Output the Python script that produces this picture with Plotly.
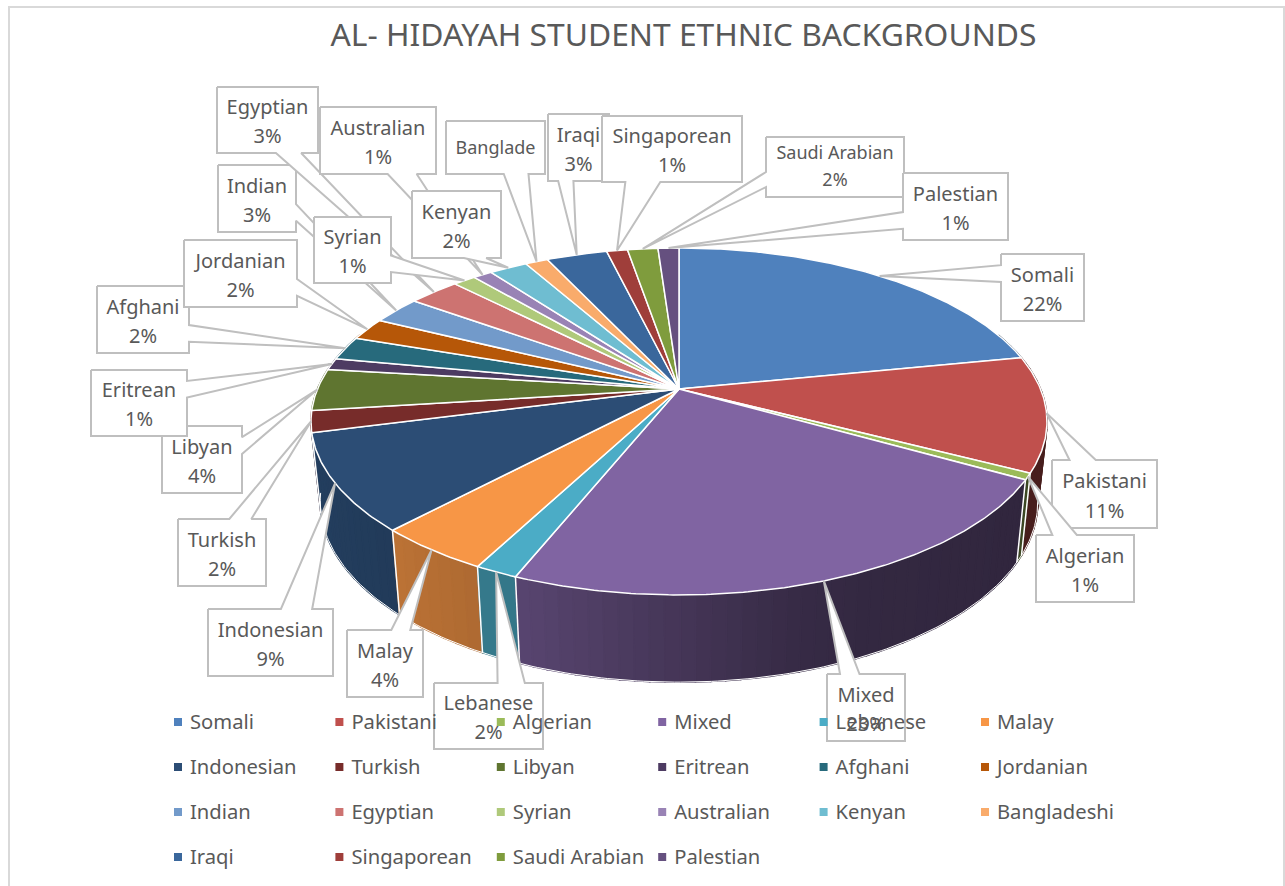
import numpy as np
import plotly.graph_objects as go

# Share of students per background, in percent, clockwise from twelve o'clock
categories = ["Somali", "Pakistani", "Algerian", "Mixed", "Lebanese", "Malay",
              "Indonesian", "Turkish", "Libyan", "Eritrean", "Afghani", "Jordanian",
              "Indian", "Egyptian", "Syrian", "Australian", "Kenyan", "Bangladeshi",
              "Iraqi", "Singaporean", "Saudi Arabian", "Palestian"]
shares = [21.9, 10.7, 0.6, 22.9, 1.6, 4.3,
          9.0, 2.0, 3.9, 1.1, 2.2, 2.1,
          2.6, 2.7, 1.2, 1.0, 2.0, 1.2,
          3.2, 1.1, 1.6, 1.1]
slice_colors = ["#4f81bd", "#c0504d", "#9bbb59", "#8064a2", "#4bacc6", "#f79646",
                "#2c4d75", "#772c2a", "#5f7530", "#4d3b62", "#276a7c", "#b65708",
                "#729aca", "#cd7371", "#afc97a", "#9983b5", "#6fbdd1", "#f9ab6b",
                "#3a679c", "#9f3e3a", "#7f9c3d", "#65507f"]

TITLE = "AL- HIDAYAH STUDENT ETHNIC BACKGROUNDS"
TEXT = "#595959"
CALLOUT_LINE = "#bfbfbf"
FONT = "Noto Sans"

# Callout boxes as x0, y0, x1, y1 in page pixels
label_boxes = {
    "Somali": (1001, 254, 1084, 321), "Pakistani": (1052, 460, 1157, 528),
    "Algerian": (1036, 535, 1134, 602), "Mixed": (827, 674, 905, 741),
    "Lebanese": (434, 683, 543, 749), "Malay": (347, 630, 423, 697),
    "Indonesian": (208, 609, 333, 676), "Turkish": (178, 519, 266, 586),
    "Libyan": (162, 426, 242, 493), "Eritrean": (91, 370, 187, 436),
    "Afghani": (97, 286, 189, 353), "Jordanian": (184, 240, 297, 307),
    "Indian": (218, 165, 296, 232), "Egyptian": (217, 87, 318, 153),
    "Syrian": (314, 217, 391, 283), "Australian": (320, 107, 436, 174),
    "Kenyan": (412, 191, 501, 258), "Bangladeshi": (446, 121, 545, 174),
    "Iraqi": (548, 114, 609, 181), "Singaporean": (602, 116, 742, 182),
    "Saudi Arabian": (766, 137, 904, 197), "Palestian": (903, 173, 1008, 240),
}
# The narrow Bangladeshi box clips its text and drops the percentage
clipped_labels = {"Bangladeshi": "Banglade"}
small_labels = {"Bangladeshi", "Saudi Arabian"}

# Perspective projection of the pie disc onto the page
CX, TOP_Y = 679.0, 389.0
A, B, K = 361.5, 167.4, 0.187
BOTTOM_Y, BOTTOM_SX, BOTTOM_SY = 468.0, 0.975, 1.04


def top_xy(theta):
    u, v = np.sin(theta), np.cos(theta)
    w = 1 + K * v
    return CX + A * u / w, TOP_Y - B * v / w


def bottom_xy(theta):
    u, v = np.sin(theta), np.cos(theta)
    w = 1 + K * v
    return CX + BOTTOM_SX * A * u / w, BOTTOM_Y - BOTTOM_SY * B * v / w


def wall_shade(theta):
    deg = np.degrees(theta)
    return np.interp(deg, [90, 120, 155, 165, 200, 212, 225, 245, 270],
                     [0.36, 0.38, 0.40, 0.43, 0.68, 0.72, 0.77, 0.80, 0.82])


def scaled(color, f):
    r, g, b = (int(color[i:i + 2], 16) for i in (1, 3, 5))
    return f"rgb({r * f:.0f},{g * f:.0f},{b * f:.0f})"


def callout_path(box, tip):
    """Rectangle with a wedge running to the tip, wedge base on the nearest side."""
    x0, y0, x1, y1 = box
    w, h = x1 - x0, y1 - y0
    dx, dy = tip[0] - (x0 + x1) / 2, tip[1] - (y0 + y1) / 2
    near = (7 / 12, 5 / 6)
    far = (1 / 6, 5 / 12)
    if abs(dy) > abs(dx * h / w):
        a, b = near if dx > 0 else far
        xa, xb = x0 + a * w, x0 + b * w
        if dy > 0:
            xs = [x0, x1, x1, xb, tip[0], xa, x0, x0]
            ys = [y0, y0, y1, y1, tip[1], y1, y1, y0]
        else:
            xs = [x0, xa, tip[0], xb, x1, x1, x0, x0]
            ys = [y0, y0, tip[1], y0, y0, y1, y1, y0]
    else:
        a, b = near if dy > 0 else far
        ya, yb = y0 + a * h, y0 + b * h
        if dx > 0:
            xs = [x0, x1, x1, tip[0], x1, x1, x0, x0]
            ys = [y0, y0, ya, tip[1], yb, y1, y1, y0]
        else:
            xs = [x0, x1, x1, x0, x0, tip[0], x0, x0]
            ys = [y0, y0, y1, y1, yb, tip[1], ya, y0]
    return xs, ys


def poly(xs, ys, fill, line, width):
    return go.Scatter(x=xs, y=ys, mode="lines", fill="toself", fillcolor=fill,
                      line=dict(color=line, width=width), hoverinfo="skip",
                      showlegend=False)


values = np.array(shares, dtype=float)
edges = 2 * np.pi * np.concatenate([[0], np.cumsum(values)]) / values.sum()

fig = go.Figure()

# Side walls, painted back to front so the nearest segments end up on top
segments = []
for i, color in enumerate(slice_colors):
    lo, hi = max(edges[i], np.radians(70)), min(edges[i + 1], np.radians(290))
    if hi <= lo:
        continue
    n = max(1, int(np.degrees(hi - lo) / 2.0))
    cuts = np.linspace(lo, hi, n + 1)
    for a, b in zip(cuts[:-1], cuts[1:]):
        segments.append((a, b, color))
segments.sort(key=lambda s: np.cos((s[0] + s[1]) / 2), reverse=True)
for a, b, color in segments:
    t = np.linspace(a, b, 4)
    tx, ty = top_xy(t)
    bx, by = bottom_xy(t[::-1])
    c = scaled(color, wall_shade((a + b) / 2))
    fig.add_trace(poly(np.r_[tx, bx, tx[0]], np.r_[ty, by, ty[0]], c, c, 1.6))

# White seams between walls and along the lower rim
for e in edges:
    if np.radians(112) < e < np.radians(256):
        x0, y0 = top_xy(e)
        x1, y1 = bottom_xy(e)
        fig.add_trace(go.Scatter(x=[x0, x1], y=[y0, y1], mode="lines",
                                 line=dict(color="white", width=1.5),
                                 hoverinfo="skip", showlegend=False))
t = np.radians(np.linspace(100, 262, 200))
bx, by = bottom_xy(t)
fig.add_trace(go.Scatter(x=bx, y=by, mode="lines", line=dict(color="white", width=1),
                         hoverinfo="skip", showlegend=False))

# Top face of the pie
for i, color in enumerate(slice_colors):
    t = np.linspace(edges[i], edges[i + 1], max(3, int(values[i] * 6)))
    x, y = top_xy(t)
    fig.add_trace(poly(np.r_[CX, x, CX], np.r_[TOP_Y, y, TOP_Y], color, "white", 1.5))

# Callouts in series order, each with its tip on the rim at mid-slice
for i, name in enumerate(categories):
    mid = (edges[i] + edges[i + 1]) / 2
    tip = tuple(float(v) for v in top_xy(mid))
    box = label_boxes[name]
    xs, ys = callout_path(box, tip)
    fig.add_trace(poly(xs, ys, "white", CALLOUT_LINE, 2))
    x0, y0, x1, y1 = box
    xc, h = (x0 + x1) / 2, y1 - y0
    size = 18 if name in small_labels else 20
    if name in clipped_labels:
        lx, ly, lt = [xc], [y0 + 0.54 * h], [clipped_labels[name]]
    else:
        pct = f"{round(values[i] / values.sum() * 100)}%"
        first, second = (0.29, 0.745) if name in small_labels else (0.34, 0.78)
        lx, ly, lt = [xc, xc], [y0 + first * h, y0 + second * h], [name, pct]
    fig.add_trace(go.Scatter(x=lx, y=ly, text=lt, mode="text", textposition="middle center",
                             textfont=dict(family=FONT, size=size, color=TEXT),
                             hoverinfo="skip", showlegend=False))

# Legend grid: six columns, four rows, drawn above the callouts
LEG_X0, LEG_DX, LEG_Y0, LEG_DY = 178.0, 161.4, 722.0, 45.0
for i, name in enumerate(categories):
    col, row = i % 6, i // 6
    x = LEG_X0 + col * LEG_DX
    y = LEG_Y0 + row * LEG_DY
    fig.add_trace(go.Scatter(x=[x], y=[y], mode="markers",
                             marker=dict(symbol="square", size=8, color=slice_colors[i]),
                             hoverinfo="skip", showlegend=False))
    fig.add_trace(go.Scatter(x=[x + 12], y=[y + 1.5], text=[name], mode="text",
                             textposition="middle right",
                             textfont=dict(family=FONT, size=20.2, color=TEXT),
                             hoverinfo="skip", showlegend=False))

fig.update_layout(
    width=1285, height=886, margin=dict(l=0, r=0, t=0, b=0),
    paper_bgcolor="white", plot_bgcolor="white",
    title=dict(text=TITLE, x=683.5 / 1285, xanchor="center", y=1 - 35 / 886, yanchor="middle",
               font=dict(family=FONT, size=31.8, color=TEXT)),
    xaxis=dict(range=[0, 1285], visible=False, fixedrange=True),
    yaxis=dict(range=[886, 0], visible=False, fixedrange=True),
    # Chart frame; its lower edge sits below the page fold
    shapes=[dict(type="rect", xref="x", yref="y", x0=9, y0=7, x1=1284, y1=900,
                 line=dict(color="#d9d9d9", width=2), layer="below")],
)
fig.write_html("out.html")
